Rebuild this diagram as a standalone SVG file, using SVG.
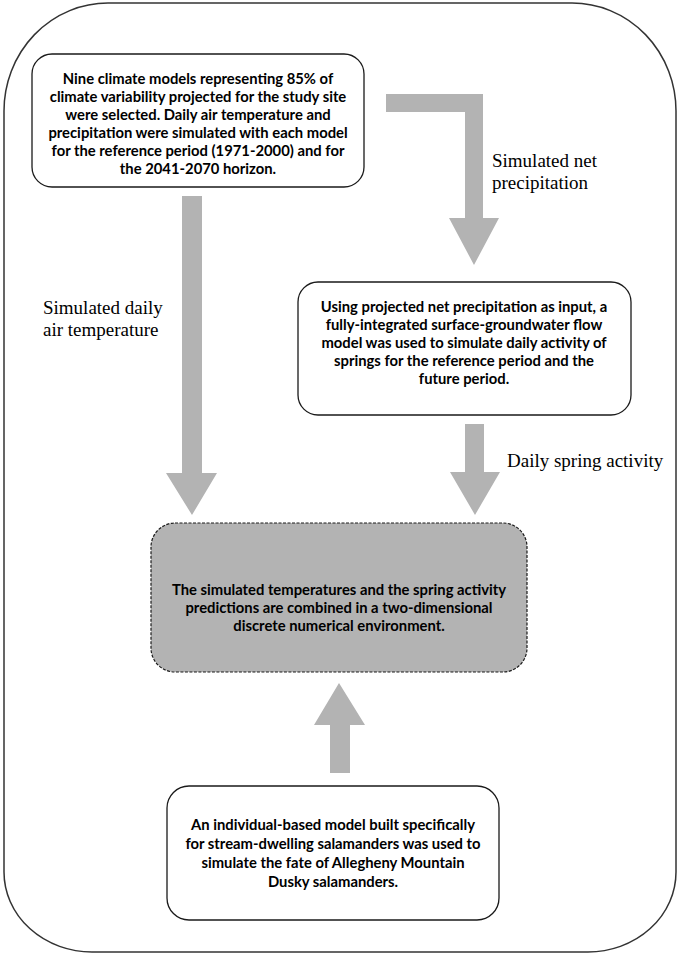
<svg xmlns="http://www.w3.org/2000/svg" width="680" height="955" viewBox="0 0 680 955">
<style>
.box{fill:#ffffff;stroke:#1a1a1a;stroke-width:1.3}
.gbox{fill:#b3b3b3;stroke:#1a1a1a;stroke-width:1.2;stroke-dasharray:3 1.5}
.t{font-family:Lato,"Liberation Sans",sans-serif;font-weight:700;font-size:14.8px;fill:#000;text-anchor:middle}
.lbl{font-family:"Liberation Serif","Times New Roman",serif;font-size:19px;fill:#000}
.arr{fill:#b3b3b3}
</style>
<rect width="680" height="955" fill="#ffffff"/>
<path d="M108,3 H572 A104,108 0 0 1 676,111 V872 A88,80 0 0 1 588,952 H92 A88,80 0 0 1 4,872 V111 A104,108 0 0 1 108,3 Z" fill="none" stroke="#333" stroke-width="1.5"/>
<g id="connectors">
<path class="arr" d="M386,94 H483 V218 H499 L474,265 L449,218 H465 V112 H386 Z"/>
<path class="arr" d="M182,196 H202 V473 H217 L192,515 L166,473 H182 Z"/>
<path class="arr" d="M465,424 H484 V472 H500 L475,515 L450,472 H465 Z"/>
<path class="arr" d="M330,773 V725 H314 L339,683 L365,725 H350 V773 Z"/>
<text class="lbl" x="492" y="167">Simulated net</text>
<text class="lbl" x="492" y="189">precipitation</text>
<text class="lbl" x="43" y="314">Simulated daily</text>
<text class="lbl" x="43" y="336">air temperature</text>
<text class="lbl" x="507" y="467">Daily spring activity</text>
</g>
<g id="node1">
<rect class="box" x="32" y="54" width="332" height="133" rx="20"/>
<text class="t" x="198" y="84">Nine climate models representing 85% of</text>
<text class="t" x="198" y="102">climate variability projected for the study site</text>
<text class="t" x="198" y="120">were selected. Daily air temperature and</text>
<text class="t" x="198" y="138">precipitation were simulated with each model</text>
<text class="t" x="198" y="156">for the reference period (1971-2000) and for</text>
<text class="t" x="198" y="174">the 2041-2070 horizon.</text>
</g>
<g id="node2">
<rect class="box" x="298" y="282" width="333" height="133" rx="20"/>
<text class="t" x="464" y="312">Using projected net precipitation as input, a</text>
<text class="t" x="464" y="330">fully-integrated surface-groundwater flow</text>
<text class="t" x="464" y="348">model was used to simulate daily activity of</text>
<text class="t" x="464" y="366">springs for the reference period and the</text>
<text class="t" x="464" y="384">future period.</text>
</g>
<g id="node3">
<rect class="gbox" x="151" y="523" width="376" height="149" rx="24"/>
<text class="t" x="339" y="595">The simulated temperatures and the spring activity</text>
<text class="t" x="339" y="613">predictions are combined in a two-dimensional</text>
<text class="t" x="339" y="631">discrete numerical environment.</text>
</g>
<g id="node4">
<rect class="box" x="167" y="786" width="332" height="134" rx="22"/>
<text class="t" x="333" y="830">An individual-based model built specifically</text>
<text class="t" x="333" y="849">for stream-dwelling salamanders was used to</text>
<text class="t" x="333" y="868">simulate the fate of Allegheny Mountain</text>
<text class="t" x="333" y="887">Dusky salamanders.</text>
</g>
</svg>
